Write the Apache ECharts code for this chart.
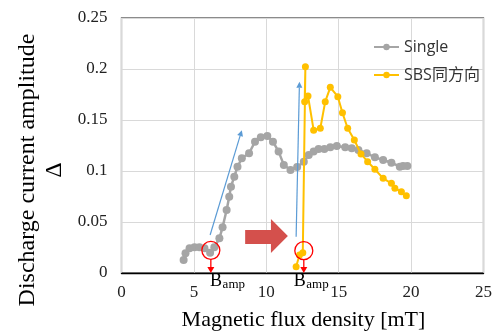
<!DOCTYPE html>
<html><head><meta charset="utf-8">
<script src="https://cdn.jsdelivr.net/npm/echarts@6/dist/echarts.min.js"></script>
<style>html,body{margin:0;padding:0;background:#fff}#c{width:495px;height:334px}</style>
</head><body><div id="c"></div>
<script>
// ---- data ----
const seriesNames = ['Single', 'SBS同方向'];
const singleX = [4.29,4.42,4.70,5.04,5.38,5.73,6.12,6.41,6.76,6.98,7.26,7.44,7.56,7.79,8.01,8.31,8.81,9.22,9.62,10.07,10.46,10.85,11.21,11.67,12.13,12.59,12.93,13.27,13.61,14.01,14.42,14.87,15.45,15.90,16.36,16.93,17.50,18.07,18.64,19.22,19.44,19.74];
const singleY = [0.0127,0.0193,0.0242,0.0252,0.0252,0.0242,0.0199,0.0252,0.034,0.0448,0.0618,0.0748,0.0846,0.0944,0.1042,0.1125,0.1174,0.1287,0.133,0.1343,0.1287,0.119,0.106,0.101,0.104,0.109,0.1157,0.119,0.1216,0.1216,0.1232,0.1245,0.1232,0.1223,0.1206,0.1174,0.1134,0.1108,0.1081,0.1042,0.1049,0.1049];
const sbsX = [12.06,12.29,12.52,12.70,12.65,12.88,13.27,13.73,14.07,14.42,14.94,15.26,15.62,16.08,16.54,17.00,17.50,18.07,18.64,18.88,19.33,19.67];
const sbsY = [0.0062,0.0176,0.0199,0.2023,0.168,0.1735,0.140,0.1419,0.168,0.182,0.1728,0.157,0.1419,0.1304,0.1167,0.1091,0.1017,0.0928,0.0879,0.083,0.0797,0.0758];
const xTicks = [0,5,10,15,20,25];
const yTicks = [0,0.05,0.1,0.15,0.2,0.25];
// annotation anchors (data coordinates)
const blueArrows = [[[6.12,0.0373],[8.31,0.140]], [[12.06,0.0356],[12.29,0.1875]]];
const redMarks = [[6.17,0.0222],[12.59,0.0219]];
const bampX = [6.12, 11.9];
const blockArrow = {x0:8.54, xh:10.32, xt:11.49, bTop:0.0422, bBot:0.0284, hTop:0.0529, hBot:0.0196};

const serif = '"Liberation Serif","Times New Roman",serif';
const sans = '"Open Sans","Noto Sans CJK SC",sans-serif';
const chart = echarts.init(document.getElementById('c'));
const zip = (xs, ys) => xs.map((x, i) => [x, ys[i]]);

chart.setOption({
  animation: false,
  backgroundColor: '#fff',
  grid: {left: 121.5, top: 18, right: 9, bottom: 61, show: true, borderColor: '#666', borderWidth: 1.3},
  xAxis: {
    type: 'value', min: xTicks[0], max: xTicks[xTicks.length-1], interval: 5,
    axisLine: {show: true, lineStyle: {color: '#000', width: 1.3}},
    axisTick: {show: false},
    splitLine: {show: true, lineStyle: {color: '#d9d9d9', width: 1}},
    axisLabel: {margin: 11, fontFamily: serif, fontSize: 17, color: '#222'}
  },
  yAxis: {
    type: 'value', min: yTicks[0], max: yTicks[yTicks.length-1], interval: 0.05,
    axisLine: {show: false}, axisTick: {show: false},
    splitLine: {show: true, lineStyle: {color: '#d9d9d9', width: 1}},
    axisLabel: {margin: 14, fontFamily: serif, fontSize: 17, color: '#222'}
  },
  legend: {
    orient: 'vertical', left: 368, top: 33, itemWidth: 25, itemHeight: 8, itemGap: 10,
    data: seriesNames,
    textStyle: {fontFamily: sans, fontSize: 16, color: '#333', lineHeight: 18}
  },
  series: [
    {name: seriesNames[0], type: 'line', data: zip(singleX, singleY), symbol: 'circle', symbolSize: 8,
     lineStyle: {color: '#a5a5a5', width: 2.5}, itemStyle: {color: '#a5a5a5'}, z: 2},
    {name: seriesNames[1], type: 'line', data: zip(sbsX, sbsY), symbol: 'circle', symbolSize: 7,
     lineStyle: {color: '#ffc000', width: 2}, itemStyle: {color: '#ffc000'}, z: 3}
  ]
});

const P = (p) => chart.convertToPixel({gridIndex: 0}, p);
const g = [];
function arrow(a, b, color, w, hl, hw) {
  const dx = b[0]-a[0], dy = b[1]-a[1], L = Math.hypot(dx, dy), ux = dx/L, uy = dy/L;
  const bx = b[0]-ux*hl, by = b[1]-uy*hl;
  g.push({type: 'line', shape: {x1: a[0], y1: a[1], x2: bx, y2: by}, style: {stroke: color, lineWidth: w}, z: 10});
  g.push({type: 'polygon', shape: {points: [[b[0], b[1]], [bx - uy*hw, by + ux*hw], [bx + uy*hw, by - ux*hw]]}, style: {fill: color}, z: 10});
}
blueArrows.forEach(([s, e]) => arrow(P(s), P(e), '#5b9bd5', 1.2, 6, 3));
redMarks.forEach((m) => {
  const c = P(m);
  g.push({type: 'circle', shape: {cx: c[0], cy: c[1], r: 9}, style: {fill: 'none', stroke: '#ff0000', lineWidth: 1.3}, z: 11});
  const base = P([m[0], 0]);
  arrow([c[0], c[1]+9], [c[0], base[1]], '#ff0000', 1.3, 6, 3.5);
});
{
  const b = blockArrow;
  const pts = [[b.x0,b.bTop],[b.xh,b.bTop],[b.xh,b.hTop],[b.xt,(b.hTop+b.hBot)/2],[b.xh,b.hBot],[b.xh,b.bBot],[b.x0,b.bBot]].map(P);
  g.push({type: 'polygon', shape: {points: pts}, style: {fill: '#d4504c'}, z: 9});
}
bampX.forEach((x) => {
  const p = P([x, 0]);
  g.push({type: 'text', x: p[0], y: 281, style: {text: 'B', font: '18px ' + serif, fill: '#000', align: 'left', verticalAlign: 'middle'}, z: 12});
  g.push({type: 'text', x: p[0]+12.5, y: 285, style: {text: 'amp', font: '13px ' + serif, fill: '#000', align: 'left', verticalAlign: 'middle'}, z: 12});
});
g.push({type: 'text', x: 41.5, y: 170, rotation: Math.PI/2, style: {text: 'Discharge current amplitude\nΔ', font: '24px ' + serif, lineHeight: 27, fill: '#000', align: 'center', verticalAlign: 'middle'}});
g.push({type: 'text', x: 303.5, y: 320, style: {text: 'Magnetic flux density [mT]', font: '22px ' + serif, fill: '#000', align: 'center', verticalAlign: 'middle'}});
chart.setOption({graphic: g});
</script>
</body></html>
